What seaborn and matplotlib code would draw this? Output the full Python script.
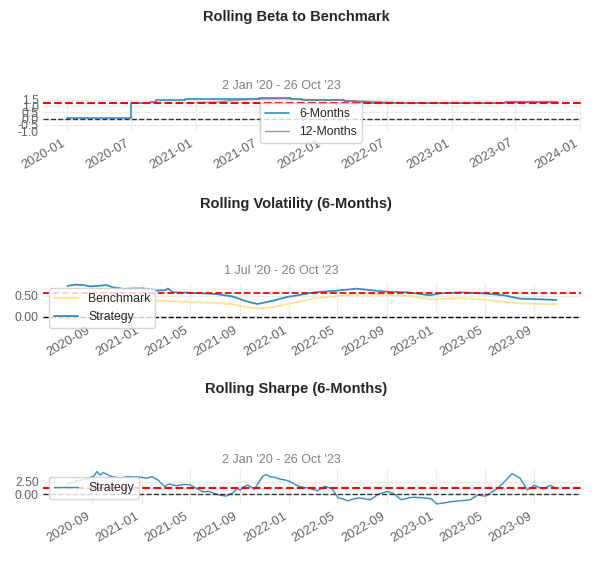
import pandas as pd
import matplotlib
matplotlib.use("Agg")
import matplotlib.pyplot as plt
import matplotlib.dates as mdates
from matplotlib.ticker import FormatStrFormatter
import seaborn as sns

# rolling beta, 6 and 12 months
beta6_dates = ["2020-01-02", "2020-06-30", "2020-07-01", "2020-07-20", "2020-08-10", "2020-08-25",
               "2020-09-10", "2020-10-01", "2020-11-01", "2020-12-01", "2021-01-01", "2021-02-01",
               "2021-03-01", "2021-04-01", "2021-05-01", "2021-06-01", "2021-07-01", "2021-08-01",
               "2021-09-01", "2021-10-01", "2021-11-01", "2021-12-01", "2022-01-01", "2022-02-01",
               "2022-03-01", "2022-04-01", "2022-05-01", "2022-06-01", "2022-08-01", "2022-10-01",
               "2022-12-01", "2023-02-01", "2023-04-01", "2023-06-01", "2023-07-01", "2023-08-01",
               "2023-09-01", "2023-10-26"]
beta6_values = [0.02, 0.02, 1.25, 1.22, 1.22, 1.30,
                1.45, 1.50, 1.52, 1.55, 1.55, 1.57,
                1.55, 1.54, 1.55, 1.58, 1.60, 1.60,
                1.62, 1.58, 1.45, 1.50, 1.50, 1.45,
                1.38, 1.32, 1.28, 1.26, 1.25, 1.24,
                1.22, 1.23, 1.26, 1.32, 1.36, 1.33,
                1.31, 1.30]
beta12_dates = ["2021-01-04", "2021-02-01", "2021-03-01", "2021-04-01", "2021-05-01", "2021-07-01",
                "2021-09-01", "2021-11-01", "2022-01-01", "2022-03-01", "2022-05-01", "2022-07-01",
                "2022-09-01", "2022-12-01", "2023-03-01", "2023-06-01", "2023-08-01", "2023-10-26"]
beta12_values = [1.28, 1.30, 1.32, 1.40, 1.48, 1.55,
                 1.58, 1.52, 1.50, 1.45, 1.38, 1.30,
                 1.26, 1.25, 1.24, 1.27, 1.30, 1.29]
beta_mean = 1.27

# rolling volatility (6 months)
vol_strategy_dates = ["2020-07-01", "2020-07-20", "2020-08-10", "2020-08-25", "2020-09-15", "2020-10-05",
                      "2020-10-20", "2020-11-17", "2020-12-15", "2021-01-05", "2021-02-07", "2021-03-01",
                      "2021-03-07", "2021-03-19", "2021-05-01", "2021-07-05", "2021-08-15", "2021-09-17",
                      "2021-10-15", "2021-11-21", "2022-01-01", "2022-01-16", "2022-03-06", "2022-05-01",
                      "2022-06-17", "2022-07-24", "2022-09-03", "2022-10-22", "2022-12-15", "2023-01-12",
                      "2023-03-02", "2023-04-28", "2023-06-17", "2023-07-28", "2023-08-30", "2023-10-26"]
vol_strategy_values = [0.73, 0.76, 0.75, 0.72, 0.73, 0.75,
                       0.70, 0.66, 0.67, 0.67, 0.62, 0.63,
                       0.67, 0.58, 0.57, 0.54, 0.48, 0.37,
                       0.305, 0.38, 0.48, 0.50, 0.58, 0.62,
                       0.665, 0.63, 0.59, 0.58, 0.51, 0.555,
                       0.58, 0.555, 0.51, 0.43, 0.42, 0.40]
vol_bench_dates = ["2020-07-01", "2020-08-15", "2020-10-01", "2020-11-15", "2021-01-01", "2021-02-10",
                   "2021-03-19", "2021-05-01", "2021-07-01", "2021-08-15", "2021-09-17", "2021-10-15",
                   "2021-11-21", "2022-01-01", "2022-02-01", "2022-03-06", "2022-05-01", "2022-06-17",
                   "2022-09-03", "2022-10-22", "2022-12-15", "2023-03-02", "2023-04-28", "2023-06-17",
                   "2023-07-28", "2023-08-30", "2023-10-26"]
vol_bench_values = [0.46, 0.44, 0.42, 0.40, 0.38, 0.38,
                    0.37, 0.35, 0.33, 0.30, 0.23, 0.20,
                    0.23, 0.31, 0.37, 0.44, 0.49, 0.53,
                    0.52, 0.50, 0.42, 0.44, 0.41, 0.36,
                    0.32, 0.31, 0.30]
vol_mean = 0.555

# rolling sharpe (6 months)
sharpe_dates = ["2020-07-01", "2020-07-20", "2020-08-10", "2020-08-27", "2020-09-05", "2020-09-12",
                "2020-09-20", "2020-09-28", "2020-10-15", "2020-10-28", "2020-11-09", "2020-11-25",
                "2020-12-10", "2020-12-28", "2021-01-13", "2021-01-26", "2021-02-11", "2021-02-27",
                "2021-03-05", "2021-03-12", "2021-03-28", "2021-04-15", "2021-04-30", "2021-05-16",
                "2021-06-02", "2021-06-15", "2021-06-26", "2021-07-13", "2021-07-29", "2021-08-15",
                "2021-08-27", "2021-09-02", "2021-09-08", "2021-09-21", "2021-10-07", "2021-10-20",
                "2021-10-28", "2021-11-05", "2021-11-15", "2021-11-29", "2021-12-10", "2021-12-24",
                "2022-01-04", "2022-01-18", "2022-02-02", "2022-02-20", "2022-03-12", "2022-03-31",
                "2022-04-18", "2022-05-03", "2022-05-15", "2022-05-26", "2022-06-10", "2022-06-24",
                "2022-07-22", "2022-08-10", "2022-09-01", "2022-09-17", "2022-10-06", "2022-10-20",
                "2022-11-04", "2022-12-02", "2022-12-20", "2023-01-02", "2023-01-19", "2023-02-10",
                "2023-02-26", "2023-03-26", "2023-04-14", "2023-05-03", "2023-05-31", "2023-06-19",
                "2023-07-08", "2023-07-27", "2023-08-15", "2023-09-01", "2023-09-22", "2023-10-11",
                "2023-10-26"]
sharpe_values = [2.0, 2.6, 2.9, 3.37, 3.6, 4.5,
                 3.8, 4.3, 3.6, 3.4, 3.17, 3.5,
                 3.45, 3.4, 3.17, 3.5, 2.8, 1.5,
                 1.9, 2.0, 1.7, 1.95, 1.9, 1.2,
                 0.5, 0.6, 0.3, -0.15, -0.35, 0.3,
                 1.2, 0.8, 1.4, 1.85, 1.0, 2.6,
                 3.6, 3.9, 3.5, 3.3, 3.0, 2.8,
                 2.5, 1.85, 1.43, 1.2, 0.7, 1.6,
                 1.07, -0.7, -0.9, -1.3, -0.9, -0.7,
                 -1.07, 0.0, 0.57, 0.14, -1.07, -0.8,
                 -0.57, -0.7, -0.9, -1.9, -1.7, -1.4,
                 -1.3, -1.07, -0.14, -0.36, 1.07, 2.5,
                 4.1, 3.2, 0.86, 1.8, 1.07, 1.8,
                 1.1]
sharpe_mean = 1.25

BLUE = "#348dc1"
YELLOW = "#fedd78"
TICK = "#626262"

sns.set_style("whitegrid", {"grid.color": "#ebebeb", "axes.edgecolor": "white"})
plt.rcParams["font.family"] = ["Liberation Sans", "DejaVu Sans"]

fig = plt.figure(figsize=(5.96, 5.68), dpi=100)
W, H = 596.0, 568.0


def make_ax(top, bottom):
    return fig.add_axes([43 / W, 1 - bottom / H, 538 / W, (bottom - top) / H])


def finish(ax, months, fmt):
    for s in ax.spines.values():
        s.set_visible(False)
    ax.xaxis.set_major_locator(mdates.MonthLocator(bymonth=months))
    ax.xaxis.set_major_formatter(mdates.DateFormatter("%Y-%m"))
    ax.yaxis.set_major_formatter(FormatStrFormatter(fmt))
    ax.tick_params(axis="x", labelsize=9.3, colors=TICK, length=0, pad=4)
    ax.tick_params(axis="y", labelsize=8.7, colors=TICK, length=0, pad=3)
    for lab in ax.get_xticklabels():
        lab.set_rotation(30)
        lab.set_ha("right")
    ax.set_xlabel("")
    ax.set_ylabel("")


def leg(ax, x, y):
    ax.legend(loc="upper left", bbox_to_anchor=(x / W, 1 - y / H), bbox_transform=fig.transFigure,
              borderaxespad=0, fontsize=8.8, frameon=True, framealpha=0.8, edgecolor="#cccccc",
              fancybox=True)


# --- rolling beta
ax1 = make_ax(96.6, 131.3)
sns.lineplot(x=pd.to_datetime(beta6_dates), y=beta6_values, ax=ax1, color=BLUE, lw=1.2,
             label="6-Months", drawstyle="steps-post")
sns.lineplot(x=pd.to_datetime(beta12_dates), y=beta12_values, ax=ax1, color="gray", lw=1,
             alpha=0.8, label="12-Months")
ax1.axhline(beta_mean, ls="--", lw=1.5, color="red", zorder=2)
ax1.axhline(0, ls="--", lw=1, color="#333333", zorder=2)
ax1.set_ylim(-1.0, 1.75)
ax1.set_yticks([-1.0, -0.5, 0.0, 0.5, 1.0, 1.5])
finish(ax1, [1, 7], "%.1f")
leg(ax1, 260, 103)

# --- rolling volatility
ax2 = make_ax(282.5, 318.7)
sns.lineplot(x=pd.to_datetime(vol_bench_dates), y=vol_bench_values, ax=ax2, color=YELLOW, lw=1.3,
             alpha=0.8, label="Benchmark")
sns.lineplot(x=pd.to_datetime(vol_strategy_dates), y=vol_strategy_values, ax=ax2, color=BLUE, lw=1.3,
             label="Strategy")
ax2.axhline(vol_mean, ls="--", lw=1.3, color="red", zorder=2)
ax2.axhline(0, ls="--", lw=1, color="black", zorder=2)
ax2.set_ylim(-0.04, 0.81)
ax2.set_yticks([0.0, 0.5])
finish(ax2, [1, 5, 9], "%.2f")
leg(ax2, 49, 288)

# --- rolling sharpe
ax3 = make_ax(469, 505)
sns.lineplot(x=pd.to_datetime(sharpe_dates), y=sharpe_values, ax=ax3, color=BLUE, lw=1,
             label="Strategy")
ax3.axhline(sharpe_mean, ls="--", lw=1.5, color="red", zorder=2)
ax3.axhline(0, ls="--", lw=1, color="#333333", zorder=2)
ax3.set_ylim(-2.1, 5.0)
ax3.set_yticks([0.0, 2.5])
finish(ax3, [1, 5, 9], "%.2f")
leg(ax3, 49, 477)

# titles and date-range subtitles
titles = ["Rolling Beta to Benchmark", "Rolling Volatility (6-Months)", "Rolling Sharpe (6-Months)"]
subtitles = ["2 Jan '20 - 26 Oct '23", "1 Jul '20 - 26 Oct '23", "2 Jan '20 - 26 Oct '23"]
for t, ty in zip(titles, [17, 204, 389]):
    fig.text(0.497, 1 - ty / H, t, ha="center", va="center", fontsize=10.5, fontweight="bold")
for s, sy in zip(subtitles, [86, 271.5, 460]):
    fig.text(281 / W, 1 - sy / H, s, ha="center", va="center", fontsize=9, color="gray")

fig.savefig("out.png", dpi=100)
